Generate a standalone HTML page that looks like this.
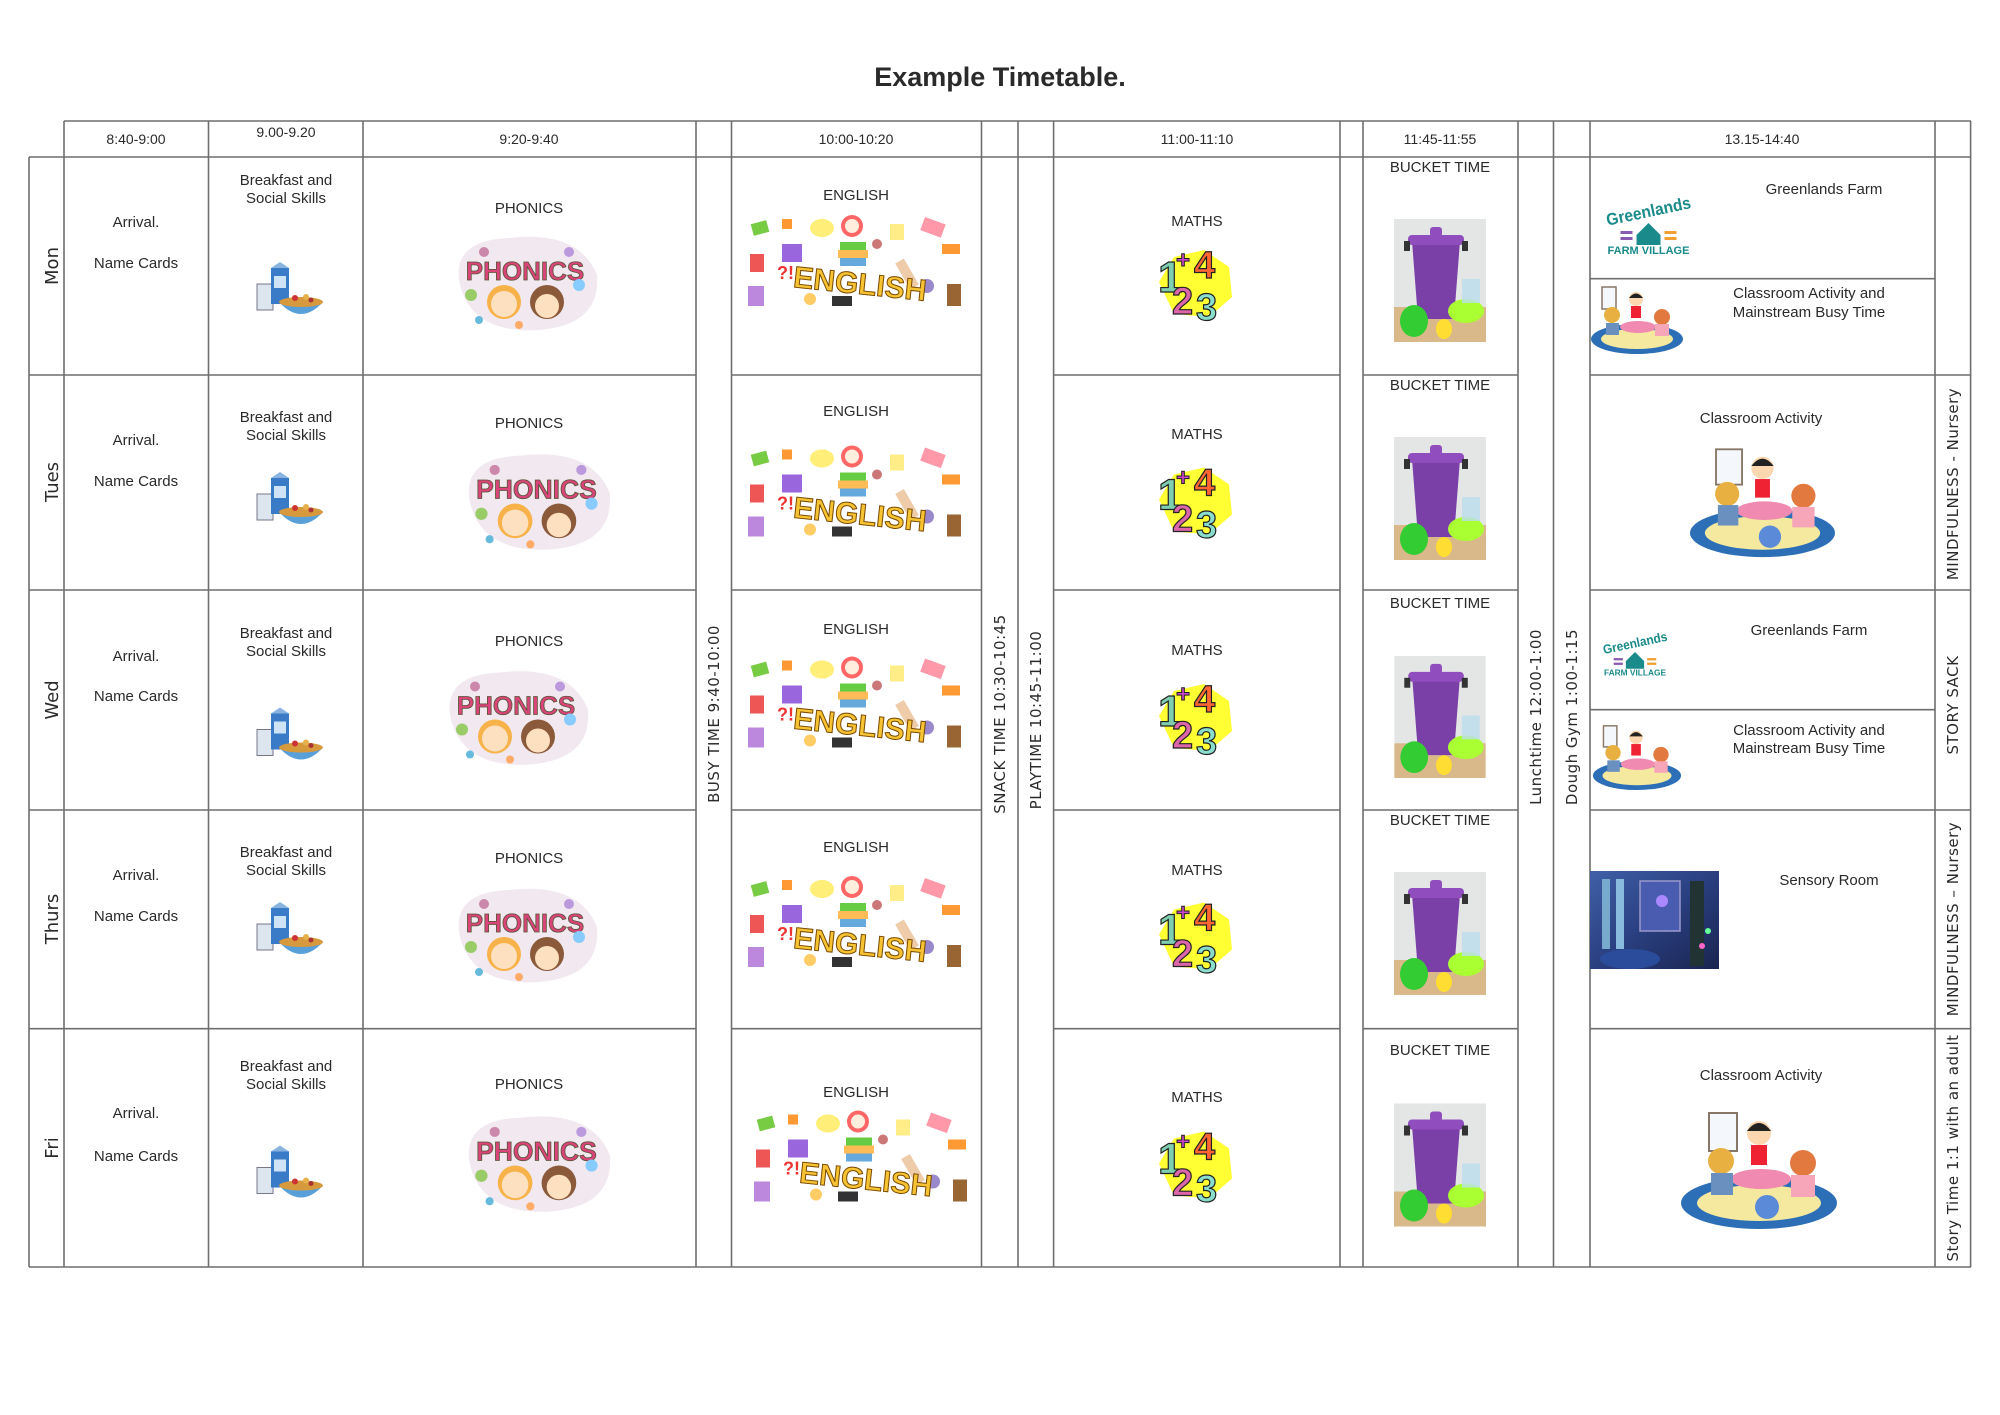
<!DOCTYPE html>
<html><head><meta charset="utf-8"><style>
html,body{margin:0;padding:0;background:#fff;}
svg{display:block;}
text{font-family:"Liberation Sans",sans-serif;fill:#2a2a2a;}
.t{font-size:15px;text-anchor:middle;}
.h{font-size:14px;text-anchor:middle;}
.v{font-size:15px;text-anchor:middle;font-family:"DejaVu Sans","Liberation Sans",sans-serif;letter-spacing:0.5px;}
.d{font-size:18px;text-anchor:middle;font-family:"DejaVu Sans","Liberation Sans",sans-serif;}
</style></head><body>
<svg width="2000" height="1415" viewBox="0 0 2000 1415" xmlns="http://www.w3.org/2000/svg">
<defs>
<symbol id="bf" viewBox="0 0 74 63">
 <rect x="6" y="22" width="16" height="26" fill="#dde6ee" stroke="#778" stroke-width="1"/>
 <rect x="20" y="6" width="18" height="36" fill="#3a7bc8"/>
 <polygon points="20,6 29,0 38,6" fill="#8ab4e0"/>
 <rect x="23" y="14" width="12" height="12" fill="#cfe3f7"/>
 <path d="M28 40 Q50 64 72 40 Z" fill="#5aa0d8"/>
 <ellipse cx="50" cy="40" rx="22" ry="5" fill="#d69a3c"/>
 <circle cx="44" cy="36" r="3" fill="#c33"/><circle cx="55" cy="35" r="3" fill="#e8b04a"/><circle cx="60" cy="38" r="2.5" fill="#a33"/>
</symbol>
<symbol id="ph" viewBox="0 0 153 104">
 <path d="M10 50 Q5 10 60 8 Q130 0 148 45 Q152 95 90 100 Q20 104 10 50 Z" fill="#f1e8f0"/>
 <text x="76" y="50" font-size="26" font-weight="bold" text-anchor="middle" style="fill:#d9457a;stroke:#553;stroke-width:0.8">PHONICS</text>
 <circle cx="55" cy="72" r="17" fill="#f7b24a"/><circle cx="55" cy="74" r="13" fill="#fde0c0"/>
 <circle cx="98" cy="72" r="17" fill="#8a5a3a"/><circle cx="98" cy="76" r="12" fill="#fde0c0"/>
 <circle cx="22" cy="65" r="6" fill="#9c6"/><circle cx="130" cy="55" r="6" fill="#8cf"/><circle cx="35" cy="22" r="5" fill="#c8a"/><circle cx="120" cy="22" r="5" fill="#b9d"/>
 <circle cx="70" cy="95" r="4" fill="#fa6"/><circle cx="30" cy="90" r="4" fill="#6bd"/>
</symbol>
<symbol id="en" viewBox="0 0 227 102">
 <rect x="10" y="8" width="16" height="12" fill="#7c4" transform="rotate(-15 18 14)"/>
 <rect x="40" y="5" width="10" height="10" fill="#f93"/>
 <rect x="40" y="30" width="20" height="18" fill="#96d"/>
 <ellipse cx="80" cy="14" rx="12" ry="9" fill="#fe7"/>
 <circle cx="110" cy="12" r="11" fill="#f66"/><circle cx="110" cy="12" r="7" fill="#fed"/>
 <rect x="98" y="28" width="26" height="8" fill="#6c4"/><rect x="96" y="36" width="30" height="8" fill="#fb5"/><rect x="98" y="44" width="26" height="8" fill="#6ad"/>
 <rect x="148" y="10" width="14" height="16" fill="#fe8"/>
 <rect x="180" y="6" width="22" height="14" fill="#f9a" transform="rotate(20 190 13)"/>
 <rect x="200" y="30" width="18" height="10" fill="#f93"/>
 <rect x="8" y="40" width="14" height="18" fill="#e55"/>
 <rect x="6" y="72" width="16" height="20" fill="#b8d"/>
 <rect x="205" y="70" width="14" height="22" fill="#963"/>
 <rect x="160" y="45" width="10" height="30" fill="#eca" transform="rotate(-30 165 60)"/>
 <rect x="90" y="82" width="20" height="10" fill="#333"/>
 <circle cx="68" cy="85" r="6" fill="#fc6"/><circle cx="185" cy="72" r="7" fill="#98c"/><circle cx="135" cy="30" r="5" fill="#c77"/>
 <text x="118" y="80" font-size="30" font-weight="bold" text-anchor="middle" transform="rotate(6 118 70)" style="fill:#f6c333;stroke:#7a4a00;stroke-width:1">ENGLISH</text>
 <text x="35" y="65" font-size="18" font-weight="bold" style="fill:#e33">?!</text>
</symbol>
<symbol id="ma" viewBox="0 0 83 80">
 <polygon points="5,40 20,15 50,8 75,25 78,55 55,75 20,72" fill="#ff3"/>
 <text x="4" y="50" font-size="44" font-weight="bold" style="fill:#7ecfb0;stroke:#222;stroke-width:1.2">1</text>
 <text x="40" y="36" font-size="38" font-weight="bold" style="fill:#f63;stroke:#222;stroke-width:1.2">4</text>
 <text x="18" y="72" font-size="38" font-weight="bold" style="fill:#d6a;stroke:#222;stroke-width:1.2">2</text>
 <text x="42" y="78" font-size="38" font-weight="bold" style="fill:#8dc;stroke:#222;stroke-width:1.2">3</text>
 <text x="22" y="26" font-size="24" font-weight="bold" style="fill:#c4c;stroke:#222;stroke-width:1">+</text>
</symbol>
<symbol id="bk" viewBox="0 0 92 123">
 <rect width="92" height="123" fill="#e4e6e6"/>
 <rect y="88" width="92" height="35" fill="#d9b98a"/>
 <path d="M18 22 L66 22 L60 100 L24 100 Z" fill="#7b3fa8"/>
 <rect x="14" y="16" width="56" height="10" rx="4" fill="#8f4dbd"/>
 <rect x="36" y="8" width="12" height="10" rx="3" fill="#8f4dbd"/>
 <rect x="10" y="22" width="6" height="10" fill="#333"/><rect x="68" y="22" width="6" height="10" fill="#333"/>
 <ellipse cx="20" cy="102" rx="14" ry="16" fill="#3c3"/>
 <ellipse cx="72" cy="92" rx="18" ry="12" fill="#af3"/>
 <ellipse cx="50" cy="110" rx="8" ry="10" fill="#fd3"/>
 <rect x="68" y="60" width="18" height="24" fill="#bde" opacity="0.8"/>
</symbol>
<symbol id="gl" viewBox="0 0 100 64">
 <text x="50" y="26" font-size="17" font-weight="bold" text-anchor="middle" textLength="86" lengthAdjust="spacingAndGlyphs" transform="rotate(-12 50 20)" style="fill:#1a8a8a">Greenlands</text>
 <polygon points="38,44 50,32 62,44 62,54 38,54" fill="#1a8a8a"/>
 <rect x="22" y="40" width="12" height="3" fill="#8a5ab0"/><rect x="22" y="46" width="12" height="3" fill="#8a5ab0"/>
 <rect x="66" y="40" width="12" height="3" fill="#f0a030"/><rect x="66" y="46" width="12" height="3" fill="#f0a030"/>
 <text x="50" y="63" font-size="11" font-weight="bold" text-anchor="middle" style="fill:#1a8a8a">FARM VILLAGE</text>
</symbol>
<symbol id="cl" viewBox="0 0 160 128">
 <ellipse cx="80" cy="100" rx="78" ry="26" fill="#2d6fb6"/>
 <ellipse cx="80" cy="100" rx="62" ry="18" fill="#f5e9a0"/>
 <rect x="30" y="10" width="28" height="38" fill="#f4f8fc" stroke="#876" stroke-width="2"/>
 <ellipse cx="82" cy="76" rx="30" ry="10" fill="#f08ab0"/>
 <circle cx="80" cy="30" r="12" fill="#fcd7b0"/><path d="M68 28 Q80 12 92 28 Z" fill="#222"/>
 <rect x="72" y="42" width="16" height="20" fill="#e23"/>
 <circle cx="42" cy="58" r="13" fill="#e8b040"/><rect x="32" y="70" width="22" height="22" fill="#6a90c0"/>
 <circle cx="124" cy="60" r="13" fill="#e27a40"/><rect x="112" y="72" width="24" height="22" fill="#f6a6b8"/>
 <circle cx="88" cy="104" r="12" fill="#5a8ad8"/>
</symbol>
<symbol id="cls" viewBox="0 0 94 72">
 <ellipse cx="47" cy="56" rx="46" ry="15" fill="#2d6fb6"/>
 <ellipse cx="47" cy="56" rx="36" ry="10" fill="#f5e9a0"/>
 <rect x="12" y="4" width="14" height="22" fill="#f4f8fc" stroke="#876" stroke-width="1.5"/>
 <ellipse cx="48" cy="44" rx="18" ry="6" fill="#f08ab0"/>
 <circle cx="46" cy="16" r="7" fill="#fcd7b0"/><path d="M39 15 Q46 6 53 15 Z" fill="#222"/>
 <rect x="41" y="23" width="10" height="12" fill="#e23"/>
 <circle cx="22" cy="32" r="8" fill="#e8b040"/><rect x="16" y="40" width="13" height="12" fill="#6a90c0"/>
 <circle cx="72" cy="34" r="8" fill="#e27a40"/><rect x="65" y="41" width="14" height="12" fill="#f6a6b8"/>
</symbol>
<linearGradient id="sg" x1="0" y1="0" x2="1" y2="1"><stop offset="0" stop-color="#4060a8"/><stop offset="0.5" stop-color="#2a3f80"/><stop offset="1" stop-color="#1a2550"/></linearGradient>
<symbol id="se" viewBox="0 0 129 98">
 <rect width="129" height="98" fill="url(#sg)"/>
 <rect x="12" y="8" width="8" height="70" fill="#7ac"/><rect x="26" y="8" width="8" height="70" fill="#8bd"/>
 <rect x="50" y="10" width="40" height="50" fill="#4a5cb0" stroke="#99c" stroke-width="1.5"/>
 <circle cx="72" cy="30" r="6" fill="#a8f"/>
 <ellipse cx="40" cy="88" rx="30" ry="10" fill="#2b4c9a"/>
 <rect x="100" y="10" width="14" height="85" fill="#233"/><circle cx="118" cy="60" r="3" fill="#6f9"/><circle cx="112" cy="75" r="3" fill="#f6c"/>
</symbol>
</defs>

<text x="1000" y="86" font-size="27" font-weight="bold" text-anchor="middle">Example Timetable.</text>

<g stroke="#6e6e6e" stroke-width="1.6" fill="none">
 <line x1="64" y1="121" x2="1971" y2="121"/>
 <line x1="29" y1="157" x2="1971" y2="157"/>
 <line x1="29" y1="1267" x2="1971" y2="1267"/>
 <g>
  <line x1="29" y1="375" x2="696" y2="375"/><line x1="731.5" y1="375" x2="981.5" y2="375"/><line x1="1053.6" y1="375" x2="1340" y2="375"/><line x1="1363" y1="375" x2="1518" y2="375"/><line x1="1590" y1="375" x2="1971" y2="375"/>
  <line x1="29" y1="590" x2="696" y2="590"/><line x1="731.5" y1="590" x2="981.5" y2="590"/><line x1="1053.6" y1="590" x2="1340" y2="590"/><line x1="1363" y1="590" x2="1518" y2="590"/><line x1="1590" y1="590" x2="1971" y2="590"/>
  <line x1="29" y1="810" x2="696" y2="810"/><line x1="731.5" y1="810" x2="981.5" y2="810"/><line x1="1053.6" y1="810" x2="1340" y2="810"/><line x1="1363" y1="810" x2="1518" y2="810"/><line x1="1590" y1="810" x2="1971" y2="810"/>
  <line x1="29" y1="1028.7" x2="696" y2="1028.7"/><line x1="731.5" y1="1028.7" x2="981.5" y2="1028.7"/><line x1="1053.6" y1="1028.7" x2="1340" y2="1028.7"/><line x1="1363" y1="1028.7" x2="1518" y2="1028.7"/><line x1="1590" y1="1028.7" x2="1971" y2="1028.7"/>
  <line x1="1590" y1="278.7" x2="1935" y2="278.7"/><line x1="1590" y1="709.7" x2="1935" y2="709.7"/>
 </g>
 <line x1="29" y1="157" x2="29" y2="1267"/>
 <line x1="64" y1="121" x2="64" y2="1267"/>
 <line x1="208.5" y1="121" x2="208.5" y2="1267"/>
 <line x1="363" y1="121" x2="363" y2="1267"/>
 <line x1="696" y1="121" x2="696" y2="1267"/>
 <line x1="731.5" y1="121" x2="731.5" y2="1267"/>
 <line x1="981.5" y1="121" x2="981.5" y2="1267"/>
 <line x1="1018" y1="121" x2="1018" y2="1267"/>
 <line x1="1053.6" y1="121" x2="1053.6" y2="1267"/>
 <line x1="1340" y1="121" x2="1340" y2="1267"/>
 <line x1="1363" y1="121" x2="1363" y2="1267"/>
 <line x1="1518" y1="121" x2="1518" y2="1267"/>
 <line x1="1553.5" y1="121" x2="1553.5" y2="1267"/>
 <line x1="1590" y1="121" x2="1590" y2="1267"/>
 <line x1="1935" y1="121" x2="1935" y2="1267"/>
 <line x1="1970.6" y1="121" x2="1970.6" y2="1267"/>
</g>

<text class="h" x="136" y="144">8:40-9:00</text>
<text class="h" x="286" y="137">9.00-9.20</text>
<text class="h" x="529" y="144">9:20-9:40</text>
<text class="h" x="856" y="144">10:00-10:20</text>
<text class="h" x="1197" y="144">11:00-11:10</text>
<text class="h" x="1440" y="144">11:45-11:55</text>
<text class="h" x="1762" y="144">13.15-14:40</text>

<text class="d" transform="translate(58,266) rotate(-90)">Mon</text>
<text class="d" transform="translate(58,482) rotate(-90)">Tues</text>
<text class="d" transform="translate(58,700) rotate(-90)">Wed</text>
<text class="d" transform="translate(58,919) rotate(-90)">Thurs</text>
<text class="d" transform="translate(58,1148) rotate(-90)">Fri</text>

<text class="v" transform="translate(719,714) rotate(-90)">BUSY TIME 9:40-10:00</text>
<text class="v" transform="translate(1005,714) rotate(-90)">SNACK TIME 10:30-10:45</text>
<text class="v" transform="translate(1041,720) rotate(-90)">PLAYTIME 10:45-11:00</text>
<text class="v" transform="translate(1541,717) rotate(-90)">Lunchtime 12:00-1:00</text>
<text class="v" transform="translate(1577,717) rotate(-90)">Dough Gym 1:00-1:15</text>
<text class="v" transform="translate(1958,484) rotate(-90)">MINDFULNESS - Nursery</text>
<text class="v" transform="translate(1958,705) rotate(-90)">STORY SACK</text>
<text class="v" transform="translate(1958,919) rotate(-90)">MINDFULNESS – Nursery</text>
<text class="v" transform="translate(1958,1148) rotate(-90)">Story Time 1:1 with an adult</text>

<text class="t" x="136" y="227">Arrival.</text><text class="t" x="136" y="268">Name Cards</text>
<text class="t" x="286" y="185">Breakfast and</text><text class="t" x="286" y="203">Social Skills</text>
<use href="#bf" x="251" y="262" width="74" height="63"/>
<text class="t" x="529" y="213">PHONICS</text>
<use href="#ph" x="449" y="230" width="153" height="104"/>
<text class="t" x="856" y="200">ENGLISH</text>
<use href="#en" x="742" y="214" width="227" height="102"/>
<text class="t" x="1197" y="226">MATHS</text>
<use href="#ma" x="1154" y="242" width="83" height="80"/>
<text class="t" x="1440" y="172">BUCKET TIME</text>
<use href="#bk" x="1394" y="219" width="92" height="123" preserveAspectRatio="none"/>
<text class="t" x="1824" y="194">Greenlands Farm</text>
<use href="#gl" x="1598" y="191" width="101" height="64"/>
<text class="t" x="1809" y="298">Classroom Activity and</text><text class="t" x="1809" y="317">Mainstream Busy Time</text>
<use href="#cls" x="1590" y="283" width="94" height="72"/>

<text class="t" x="136" y="445">Arrival.</text><text class="t" x="136" y="486">Name Cards</text>
<text class="t" x="286" y="422">Breakfast and</text><text class="t" x="286" y="440">Social Skills</text>
<use href="#bf" x="251" y="472" width="74" height="63"/>
<text class="t" x="529" y="428">PHONICS</text>
<use href="#ph" x="459" y="446" width="156" height="109" preserveAspectRatio="none"/>
<text class="t" x="856" y="416">ENGLISH</text>
<use href="#en" x="742" y="440" width="227" height="111" preserveAspectRatio="none"/>
<text class="t" x="1197" y="439">MATHS</text>
<use href="#ma" x="1154" y="457" width="83" height="85"/>
<text class="t" x="1440" y="390">BUCKET TIME</text>
<use href="#bk" x="1394" y="437" width="92" height="123" preserveAspectRatio="none"/>
<text class="t" x="1761" y="423">Classroom Activity</text>
<use href="#cl" x="1681" y="440" width="163" height="119" preserveAspectRatio="none"/>

<text class="t" x="136" y="661">Arrival.</text><text class="t" x="136" y="701">Name Cards</text>
<text class="t" x="286" y="638">Breakfast and</text><text class="t" x="286" y="656">Social Skills</text>
<use href="#bf" x="251" y="706" width="74" height="66"/>
<text class="t" x="529" y="646">PHONICS</text>
<use href="#ph" x="440" y="661" width="153" height="111" preserveAspectRatio="none"/>
<text class="t" x="856" y="634">ENGLISH</text>
<use href="#en" x="742" y="650" width="227" height="113" preserveAspectRatio="none"/>
<text class="t" x="1197" y="655">MATHS</text>
<use href="#ma" x="1154" y="673" width="83" height="86"/>
<text class="t" x="1440" y="608">BUCKET TIME</text>
<use href="#bk" x="1394" y="656" width="92" height="122" preserveAspectRatio="none"/>
<text class="t" x="1809" y="635">Greenlands Farm</text>
<use href="#gl" x="1597" y="625" width="76" height="54"/>
<text class="t" x="1809" y="735">Classroom Activity and</text><text class="t" x="1809" y="753">Mainstream Busy Time</text>
<use href="#cls" x="1590" y="722" width="94" height="69"/>

<text class="t" x="136" y="880">Arrival.</text><text class="t" x="136" y="921">Name Cards</text>
<text class="t" x="286" y="857">Breakfast and</text><text class="t" x="286" y="875">Social Skills</text>
<use href="#bf" x="251" y="900" width="74" height="67"/>
<text class="t" x="529" y="863">PHONICS</text>
<use href="#ph" x="449" y="880" width="153" height="108" preserveAspectRatio="none"/>
<text class="t" x="856" y="852">ENGLISH</text>
<use href="#en" x="742" y="870" width="227" height="112" preserveAspectRatio="none"/>
<text class="t" x="1197" y="875">MATHS</text>
<use href="#ma" x="1154" y="893" width="83" height="83"/>
<text class="t" x="1440" y="825">BUCKET TIME</text>
<use href="#bk" x="1394" y="872" width="92" height="123" preserveAspectRatio="none"/>
<use href="#se" x="1590" y="871" width="129" height="98"/>
<text class="t" x="1829" y="885">Sensory Room</text>

<text class="t" x="136" y="1118">Arrival.</text><text class="t" x="136" y="1161">Name Cards</text>
<text class="t" x="286" y="1071">Breakfast and</text><text class="t" x="286" y="1089">Social Skills</text>
<use href="#bf" x="251" y="1142" width="74" height="70"/>
<text class="t" x="529" y="1089">PHONICS</text>
<use href="#ph" x="459" y="1103" width="156" height="119" preserveAspectRatio="none"/>
<text class="t" x="856" y="1097">ENGLISH</text>
<use href="#en" x="748" y="1107" width="227" height="107" preserveAspectRatio="none"/>
<text class="t" x="1197" y="1102">MATHS</text>
<use href="#ma" x="1154" y="1122" width="83" height="83"/>
<text class="t" x="1440" y="1055">BUCKET TIME</text>
<use href="#bk" x="1394" y="1103" width="92" height="124" preserveAspectRatio="none"/>
<text class="t" x="1761" y="1080">Classroom Activity</text>
<use href="#cl" x="1668" y="1103" width="182" height="128" preserveAspectRatio="none"/>
</svg>
</body></html>
